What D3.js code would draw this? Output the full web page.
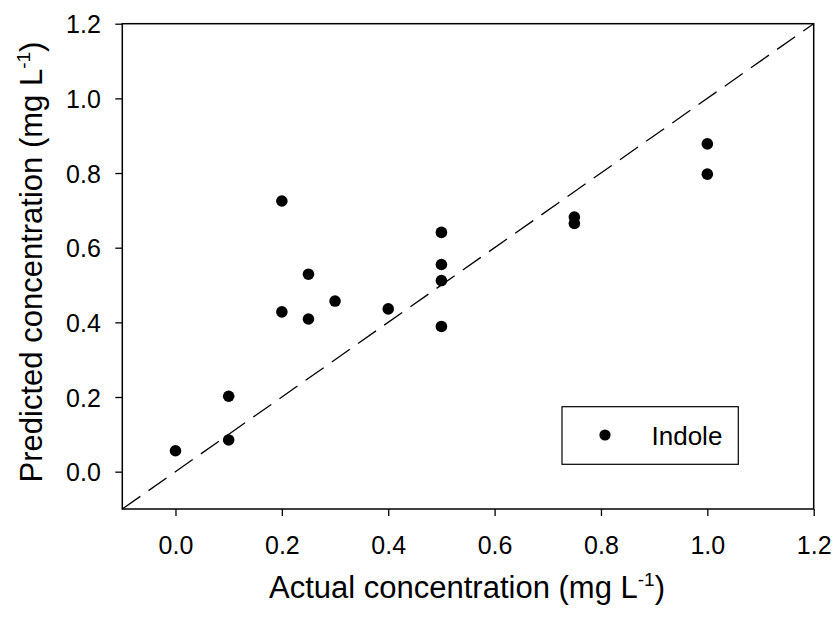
<!DOCTYPE html>
<html>
<head>
<meta charset="utf-8">
<script src="https://cdn.jsdelivr.net/npm/d3@7/dist/d3.min.js"></script>
<style>
  html, body { margin: 0; padding: 0; background: #fff; }
  svg { display: block; }
  text { font-family: "Liberation Sans", Arial, sans-serif; fill: #000; }
</style>
</head>
<body>
<svg id="chart" width="839" height="617"></svg>
<script>
const actual    = [0.0, 0.1, 0.1, 0.2, 0.2, 0.25, 0.25, 0.3, 0.4, 0.5, 0.5, 0.5, 0.5, 0.75, 0.75, 1.0, 1.0];
const predicted = [0.056, 0.202, 0.085, 0.725, 0.428, 0.529, 0.409, 0.457, 0.436, 0.641, 0.555, 0.512, 0.389, 0.682, 0.665, 0.878, 0.797];
const xTicks = [0.0, 0.2, 0.4, 0.6, 0.8, 1.0, 1.2];
const yTicks = [0.0, 0.2, 0.4, 0.6, 0.8, 1.0, 1.2];
const seriesName = "Indole";
const domainMin = -0.1, domainMax = 1.2;

const svg = d3.select("#chart");
const pL = 122.3, pR = 813.7, pT = 23.7, pB = 509;

const x = d3.scaleLinear().domain([domainMin, domainMax]).range([pL, pR]);
const y = d3.scaleLinear().domain([domainMin, domainMax]).range([pB, pT]);

// identity dashed line
svg.append("line")
  .attr("x1", x(domainMin)).attr("y1", y(domainMin))
  .attr("x2", x(domainMax)).attr("y2", y(domainMax))
  .attr("stroke", "#000").attr("stroke-width", 1.3)
  .attr("stroke-dasharray", "22,10");

// axes
const xAxis = svg.append("g")
  .attr("transform", `translate(0,${pB})`)
  .call(d3.axisBottom(x).tickValues(xTicks).tickSize(7).tickFormat(d3.format(".1f")));
xAxis.select(".domain").remove();
xAxis.selectAll(".tick line").attr("stroke", "#000").attr("stroke-width", 1.3);
xAxis.selectAll(".tick text")
  .attr("dy", null).attr("y", 45)
  .style("font-size", "25px").attr("fill", "#000");

const yAxis = svg.append("g")
  .attr("transform", `translate(${pL},0)`)
  .call(d3.axisLeft(y).tickValues(yTicks).tickSize(7).tickFormat(d3.format(".1f")));
yAxis.select(".domain").remove();
yAxis.selectAll(".tick line").attr("stroke", "#000").attr("stroke-width", 1.3);
yAxis.selectAll(".tick text")
  .attr("x", -21.5).attr("dy", "0.36em")
  .style("font-size", "25px").attr("fill", "#000");

// frame
svg.append("rect")
  .attr("x", pL).attr("y", pT)
  .attr("width", pR - pL).attr("height", pB - pT)
  .attr("fill", "none").attr("stroke", "#000").attr("stroke-width", 1.5);

// points
svg.append("g").selectAll("circle")
  .data(actual.map((a, i) => [a, predicted[i]]))
  .join("circle")
  .attr("cx", d => x(d[0])).attr("cy", d => y(d[1]))
  .attr("r", 5.8).attr("fill", "#000");

// legend
const lg = svg.append("g");
lg.append("rect")
  .attr("x", 562).attr("y", 406.7).attr("width", 176.3).attr("height", 57.6)
  .attr("fill", "#fff").attr("stroke", "#000").attr("stroke-width", 1.2);
lg.append("circle").attr("cx", 605).attr("cy", 435).attr("r", 5.6).attr("fill", "#000");
lg.append("text").attr("x", 651.5).attr("y", 445)
  .style("font-size", "26px").text(seriesName);

// x title
const xt = svg.append("text")
  .attr("x", 467).attr("y", 598.3).attr("text-anchor", "middle")
  .style("font-size", "31px");
xt.append("tspan").text("Actual concentration (mg L");
xt.append("tspan").attr("dy", -12).style("font-size", "19px").text("-1");
xt.append("tspan").attr("dy", 12).text(")");

// y title
const yt = svg.append("text")
  .attr("transform", "translate(41.7,262) rotate(-90)")
  .attr("text-anchor", "middle")
  .style("font-size", "31px");
yt.append("tspan").text("Predicted concentration (mg L");
yt.append("tspan").attr("dy", -12).style("font-size", "19px").text("-1");
yt.append("tspan").attr("dy", 12).text(")");
</script>
</body>
</html>
